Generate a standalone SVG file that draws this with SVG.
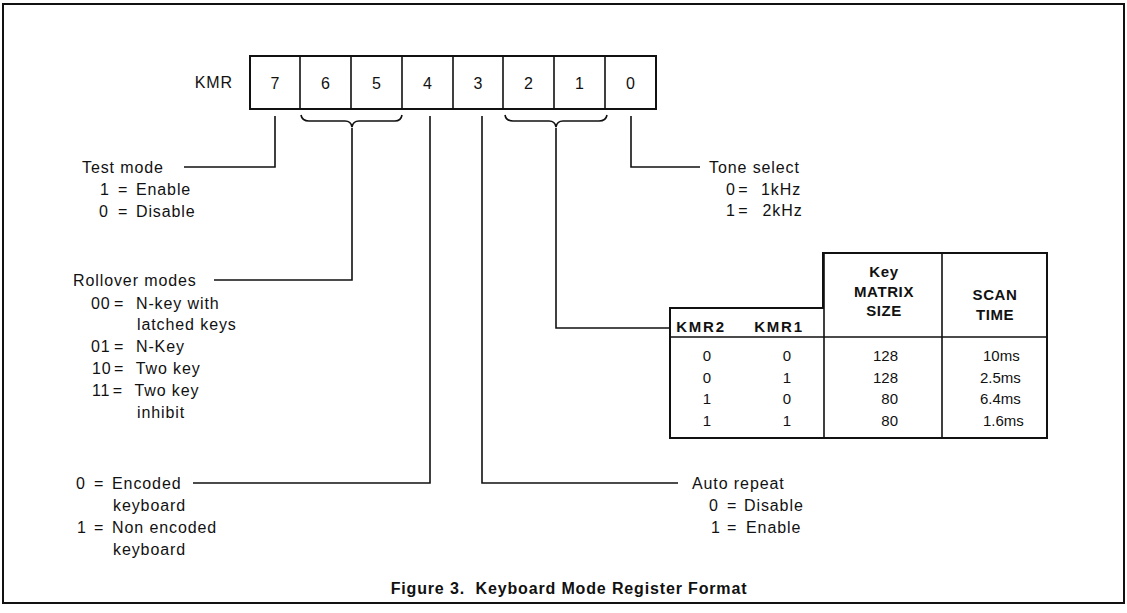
<svg xmlns="http://www.w3.org/2000/svg" width="1127" height="613" viewBox="0 0 1127 613">
<style>
text{font-family:"Liberation Sans",Arial,Helvetica,sans-serif;fill:#111;}
.lbl{font-size:16px;letter-spacing:0.9px;}
.dig{font-size:16px;text-anchor:middle;}
.hdr{font-size:15px;font-weight:bold;text-anchor:middle;letter-spacing:0.6px;}
.val{font-size:15px;}
.mid{text-anchor:middle;}
.end{text-anchor:end;}
.title{font-size:16px;font-weight:bold;text-anchor:middle;letter-spacing:0.85px;}
.ln{fill:none;stroke:#111;stroke-width:1.6;}
.box{fill:none;stroke:#111;stroke-width:2;}
</style>
<rect id="frame" x="3" y="4" width="1121" height="599" class="box"/>

<g id="register">
<text class="lbl end" x="233" y="88">KMR</text>
<rect x="250" y="56" width="406" height="53" class="box"/>
<path class="ln" d="M300,56V109M351,56V109M402,56V109M453,56V109M503,56V109M554,56V109M605,56V109"/>
<text class="dig" x="275" y="89">7</text>
<text class="dig" x="325.5" y="89">6</text>
<text class="dig" x="376.5" y="89">5</text>
<text class="dig" x="427.5" y="89">4</text>
<text class="dig" x="478" y="89">3</text>
<text class="dig" x="528.5" y="89">2</text>
<text class="dig" x="579.5" y="89">1</text>
<text class="dig" x="630.5" y="89">0</text>
</g>

<g id="connectors">
<path class="ln" d="M301,115 Q302,121 309,121 L345,121 Q351,121 352,127 Q353,121 359,121 L395,121 Q401,121 402,115"/>
<path class="ln" d="M505,115 Q506,121 513,121 L549,121 Q555,121 556,127 Q557,121 563,121 L599,121 Q606,121 607,115"/>
<path class="ln" d="M275,116V167H184"/>
<path class="ln" d="M352,128V280H214"/>
<path class="ln" d="M430,116V483H193"/>
<path class="ln" d="M482,116V483H678"/>
<path class="ln" d="M556,128V328H670"/>
<path class="ln" d="M631,116V167H700"/>
</g>

<g id="test-mode">
<text class="lbl" x="82" y="173">Test mode</text>
<text class="lbl" x="100" y="195">1 <tspan dx="2.8">=</tspan> <tspan dx="2.4">Enable</tspan></text>
<text class="lbl" x="99" y="217">0 <tspan dx="3.8">=</tspan> <tspan dx="2.4">Disable</tspan></text>
</g>

<g id="rollover-modes">
<text class="lbl" x="73" y="286">Rollover modes</text>
<text class="lbl" x="91" y="309" style="word-spacing:-2px">00 = <tspan dx="8.4">N-key</tspan><tspan dx="2"> with</tspan></text>
<text class="lbl" x="137" y="330">latched keys</text>
<text class="lbl" x="91" y="352" style="word-spacing:-2px">01 = <tspan dx="8.4">N-Key</tspan></text>
<text class="lbl" x="92" y="374" style="word-spacing:-3px">10 = <tspan dx="9.4">Two</tspan><tspan dx="3"> key</tspan></text>
<text class="lbl" x="92" y="396" style="word-spacing:-3px">11 = <tspan dx="9.4">Two</tspan><tspan dx="3"> key</tspan></text>
<text class="lbl" x="137" y="418">inhibit</text>
</g>

<g id="encoded">
<text class="lbl" x="76" y="489">0 <tspan dx="2.85">=</tspan> <tspan dx="2.4">Encoded</tspan></text>
<text class="lbl" x="113" y="511">keyboard</text>
<text class="lbl" x="77" y="533">1 <tspan dx="1.85">=</tspan> <tspan dx="2.4">Non encoded</tspan></text>
<text class="lbl" x="113" y="555">keyboard</text>
</g>

<g id="auto-repeat">
<text class="lbl" x="692" y="489">Auto repeat</text>
<text class="lbl" x="709" y="511">0 <tspan dx="2.85">=</tspan> <tspan dx="1.4">Disable</tspan></text>
<text class="lbl" x="711" y="533">1 <tspan dx="0.85">=</tspan> <tspan dx="3.4">Enable</tspan></text>
</g>

<g id="tone-select">
<text class="lbl" x="709" y="173">Tone select</text>
<text class="lbl" x="726" y="195" style="word-spacing:-3px">0 = <tspan dx="10.25">1kHz</tspan></text>
<text class="lbl" x="726" y="216" style="word-spacing:-3px">1 = <tspan dx="11.75">2kHz</tspan></text>
</g>

<g id="scan-table">
<path class="box" d="M670,308H823V253H1047V438H670Z"/>
<path class="ln" d="M670,337H1047M824,253V438M942,253V438"/>
<text class="hdr" x="701" y="332" style="letter-spacing:1.8px">KMR2</text>
<text class="hdr" x="779" y="332" style="letter-spacing:1.8px">KMR1</text>
<text class="hdr" x="884" y="277">Key</text>
<text class="hdr" x="884" y="297">MATRIX</text>
<text class="hdr" x="884" y="316">SIZE</text>
<text class="hdr" x="995" y="300">SCAN</text>
<text class="hdr" x="995" y="320">TIME</text>
<text class="val mid" x="707" y="361">0</text>
<text class="val mid" x="787" y="361">0</text>
<text class="val end" x="898" y="361">128</text>
<text class="val" x="983" y="361">10ms</text>
<text class="val mid" x="707" y="383">0</text>
<text class="val mid" x="787" y="383">1</text>
<text class="val end" x="898" y="383">128</text>
<text class="val" x="980" y="383">2.5ms</text>
<text class="val mid" x="707" y="404">1</text>
<text class="val mid" x="787" y="404">0</text>
<text class="val end" x="898" y="404">80</text>
<text class="val" x="980" y="404">6.4ms</text>
<text class="val mid" x="707" y="426">1</text>
<text class="val mid" x="787" y="426">1</text>
<text class="val end" x="898" y="426">80</text>
<text class="val" x="983" y="426">1.6ms</text>
</g>

<text id="title" class="title" x="569" y="594" xml:space="preserve">Figure 3.  Keyboard Mode Register Format</text>
</svg>
